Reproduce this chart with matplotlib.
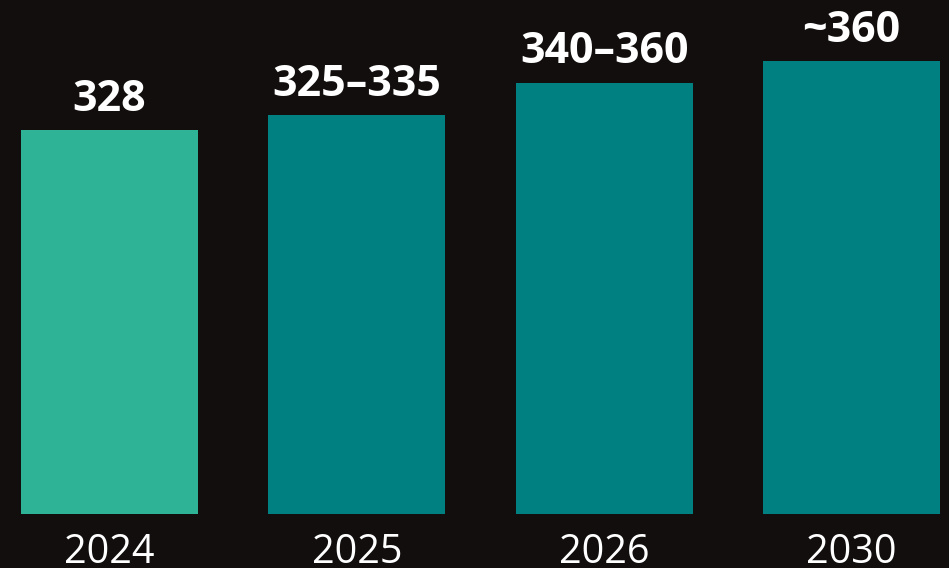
import matplotlib
matplotlib.use('Agg')
import matplotlib.pyplot as plt

# Dados
anos = ['2024', '2025', '2026', '2030']
valores = [328, 335, 350, 360]
rotulos = ['328', '325–335', '340–360', '~360']
cores = ['#2fb396', '#008080', '#008080', '#008080']
base = 150

plt.rcParams['font.family'] = ['Open Sans', 'DejaVu Sans']

fig = plt.figure(figsize=(9.49, 5.68), dpi=100)
fig.patch.set_facecolor('#120e0d')
ax = fig.add_axes([0, 0, 1, 1])
ax.set_facecolor('#120e0d')

x = list(range(len(anos)))
alturas = [v - base for v in valores]
barras = ax.bar(x, alturas, bottom=base, width=0.716, color=cores)

# Rótulos acima das barras
for xi, v, r in zip(x, valores, rotulos):
    ax.annotate(r, (xi, v), xytext=(0, 14), textcoords='offset points',
                ha='center', va='baseline', color='white',
                fontsize=31, fontweight='bold')

# Anos embaixo
for xi, a in zip(x, anos):
    ax.text(xi, 5 / 568, a, transform=ax.get_xaxis_transform(),
            ha='center', va='baseline', color='white', fontsize=28.5)

ax.set_xlim(-0.443, 3.395)
ax.set_ylim(124.95, 388.4)
ax.axis('off')

plt.savefig('out.png', dpi=100, facecolor=fig.get_facecolor())
